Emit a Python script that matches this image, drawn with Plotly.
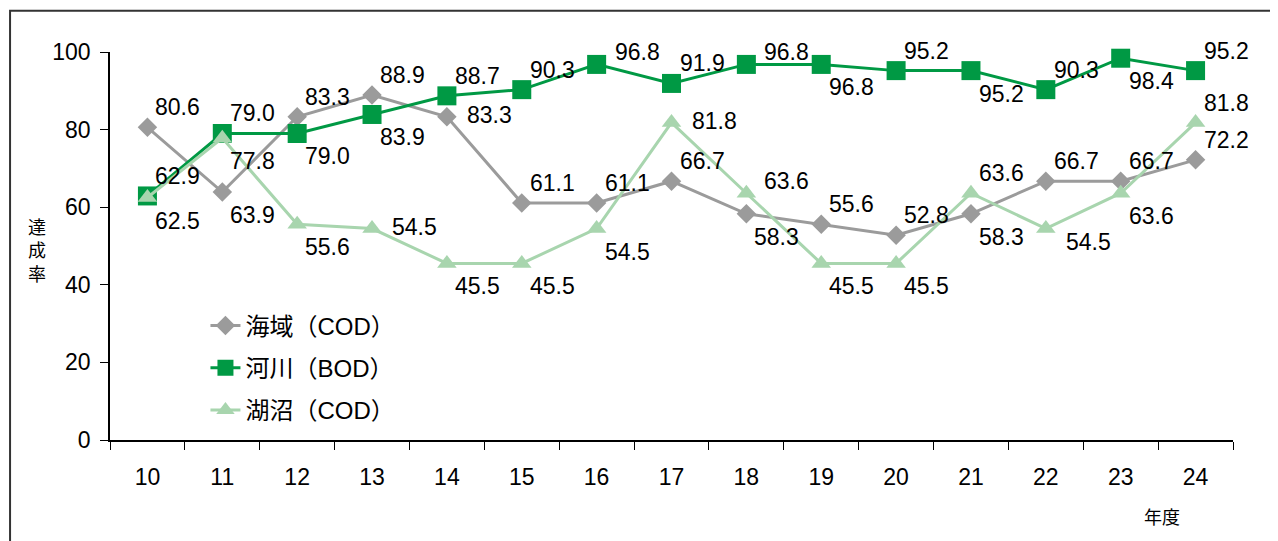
import plotly.graph_objects as go

years = ["10", "11", "12", "13", "14", "15", "16", "17", "18", "19", "20", "21", "22", "23", "24"]
sea_cod = [80.6, 63.9, 83.3, 88.9, 83.3, 61.1, 61.1, 66.7, 58.3, 55.6, 52.8, 58.3, 66.7, 66.7, 72.2]
river_bod = [62.9, 79.0, 79.0, 83.9, 88.7, 90.3, 96.8, 91.9, 96.8, 96.8, 95.2, 95.2, 90.3, 98.4, 95.2]
lake_cod = [62.5, 77.8, 55.6, 54.5, 45.5, 45.5, 54.5, 81.8, 63.6, 45.5, 45.5, 63.6, 54.5, 63.6, 81.8]

# label placement codes: U = above-right, D = below-right, R = right
sea_pos = ["U", "D", "U", "U", "R", "U", "U", "U", "D", "U", "U", "D", "U", "U", "U"]
river_pos = ["U", "U", "D", "D", "U", "U", "u", "U", "u", "D", "U", "D", "U", "D", "U"]
lake_pos = ["D", "D", "D", "R", "D", "D", "D", "R", "u", "D", "D", "U", "d", "D", "U"]

FONT = "Liberation Sans, Noto Sans CJK JP, sans-serif"
SHIFT = {"U": (6, 20), "u": (16, 12), "D": (6, -23), "d": (18, -13), "R": (18, 2)}

fig = go.Figure()
series = [
    ("海域（COD）", sea_cod, sea_pos, "#9B9B9B", "diamond", 15, "a"),
    ("河川（BOD）", river_bod, river_pos, "#009944", "square", 19, "b"),
    ("湖沼（COD）", lake_cod, lake_pos, "#A8D5AE", "triangle-up", 17, "c"),
]
annotations = []
for name, vals, pos, color, sym, size, grp in series:
    fig.add_trace(go.Scatter(
        x=years, y=vals, name=name, legendgroup=grp,
        mode="lines+markers", cliponaxis=False,
        line=dict(color=color, width=3),
        marker=dict(symbol=sym, size=size, color=color),
    ))
    for i, (yv, p) in enumerate(zip(vals, pos)):
        dx, dy = SHIFT[p]
        annotations.append(dict(
            x=i, y=yv, xref="x", yref="y", text=f"{yv:.1f}", showarrow=False,
            xanchor="left", yanchor="middle", xshift=dx, yshift=dy,
            font=dict(family=FONT, size=23, color="#000000"),
        ))

annotations += [
    dict(text="達<br>成<br>率", xref="paper", yref="paper", x=-0.065, y=0.485,
         showarrow=False, font=dict(size=18), xanchor="center", yanchor="middle"),
    dict(text="年度", xref="paper", yref="paper", x=0.937, y=-0.2,
         showarrow=False, font=dict(size=18), xanchor="center", yanchor="middle"),
]

fig.update_layout(
    width=1278, height=541,
    margin=dict(l=102, r=53, t=44, b=109),
    paper_bgcolor="white", plot_bgcolor="white",
    font=dict(family=FONT, size=23, color="#000000"),
    showlegend=True,
    legend=dict(x=0.085, y=0.352, xanchor="left", yanchor="top",
                bgcolor="rgba(0,0,0,0)", font=dict(size=24),
                tracegroupgap=8, traceorder="grouped"),
    xaxis=dict(type="category", range=[-0.5, 14.5], showgrid=False,
               showline=True, linecolor="#000000", linewidth=1.5,
               ticks="outside", tickson="boundaries", ticklen=8, tickcolor="#000000",
               tickfont=dict(size=23), ticklabelstandoff=16, zeroline=False),
    yaxis=dict(range=[0, 100], dtick=20, showgrid=False,
               showline=True, linecolor="#000000", linewidth=1.5,
               ticks="outside", ticklen=8, tickcolor="#000000",
               tickfont=dict(size=23), ticklabelstandoff=5, zeroline=False),
    annotations=annotations,
    shapes=[
        dict(type="rect", xref="paper", yref="paper", x0=-0.089, y0=-0.5, x1=1.2, y1=1.106,
             line=dict(color="#333333", width=2), layer="below"),
    ],
)

fig.write_html("out.html")
